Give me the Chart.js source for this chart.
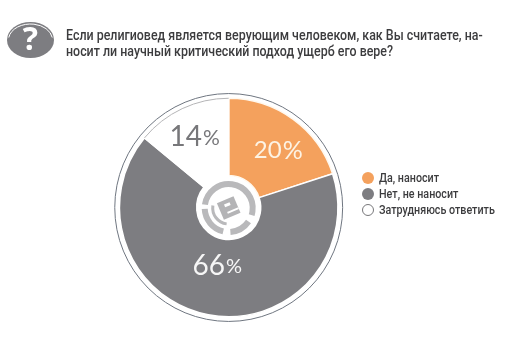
<!DOCTYPE html>
<html lang="ru">
<head>
<meta charset="utf-8">
<title>Религиовед</title>
<script src="https://cdn.jsdelivr.net/npm/chart.js@4"></script>
<style>
    html, body { margin: 0; padding: 0; background: #fff; }
    #wrap { position: relative; width: 511px; height: 360px; overflow: hidden; font-family: Roboto, sans-serif; color: #3c3c3e; }
    #title { position: absolute; left: 66px; top: 26.5px; font-size: 14px; font-weight: 500; line-height: 16.5px; white-space: nowrap; transform: scaleX(0.887); transform-origin: left top; }
    #legend { position: absolute; left: 362px; top: 170px; font-size: 13px; font-weight: 500; }
    #legend div { height: 16px; line-height: 16px; white-space: nowrap; position: relative; }
    #legend i { position: absolute; left: 0; top: 2px; width: 12px; height: 12px; border-radius: 50%; box-sizing: border-box; }
    #legend span { position: absolute; left: 17px; top: 0; transform: scaleX(0.825); transform-origin: left top; }
    canvas { position: absolute; left: 0; top: 0; }
</style>
</head>
<body>
<div id="wrap">
    <canvas id="pie" width="511" height="360"></canvas>
    <div id="title"></div>
    <div id="legend"></div>
</div>
<script>
const titleLines = ['Если религиовед является верующим человеком, как Вы считаете, на-', 'носит ли научный критический подход ущерб его вере?'];
const categories = ['Да, наносит', 'Нет, не наносит', 'Затрудняюсь ответить'];
const values = [20, 66, 14];
const colors = ['#f4a15d', '#7d7d81', '#ffffff'];
const textColors = ['#fdf3e4', '#f6f6f6', '#77777a'];

document.getElementById('title').innerHTML = titleLines.join('<br>');
document.getElementById('legend').innerHTML = categories.map((c, i) => {
    const border = i === 2 ? 'border:1.5px solid #77777a;' : '';
    return `<div><i style="background:${colors[i]};${border}"></i><span>${c}</span></div>`;
}).join('');

// percent label placement: share of outer radius, turn off the slice middle (radians)
const labelDist = [0.69, 0.54, 0.71];
const labelTurn = [0.08, -0.02, 0];
// digit and percent sign sizes differ per label in the original
const digitSize = [24, 28, 28];
const pctSize = [25, 20, 21];

const decorPlugin = {
    id: 'decor',
    afterDatasetsDraw(chart) {
        const c = chart.ctx;
        const meta = chart.getDatasetMeta(0);
        const { x, y, outerRadius: r } = meta.data[0];

        // thin outer ring
        c.save();
        c.strokeStyle = '#6f7680';
        c.lineWidth = 1;
        c.beginPath();
        c.arc(x, y, r + 4.7, 0, Math.PI * 2);
        c.stroke();

        // grey edge on the white slice
        const white = meta.data[2];
        c.strokeStyle = '#b5b5b7';
        c.beginPath();
        c.arc(x, y, r, white.startAngle, white.endAngle);
        c.stroke();

        // center emblem
        c.strokeStyle = '#b9b9bb';
        c.lineWidth = 6;
        c.beginPath(); c.arc(x, y + 0.5, 24, -3.0, 0.3); c.stroke();
        c.beginPath(); c.arc(x, y + 0.5, 24, 0.6, 1.5); c.stroke();
        c.beginPath(); c.arc(x, y + 0.5, 24, 1.8, 3.1); c.stroke();
        c.lineWidth = 3;
        c.beginPath(); c.arc(x, y + 0.5, 16, 1.7, 3.3); c.stroke();
        c.save();
        c.translate(x, y + 0.5);
        c.rotate(-0.4);
        c.fillStyle = '#b4b4b6';
        c.fillRect(-9, -9, 18, 18);
        c.fillStyle = '#ffffff';
        c.fillRect(-3, -5, 6, 3);
        c.fillRect(-3, 3, 12, 2);
        c.restore();

        // percent labels
        c.textBaseline = 'middle';
        c.textAlign = 'left';
        meta.data.forEach((a, i) => {
            const mid = (a.startAngle + a.endAngle) / 2 + labelTurn[i];
            const lx = x + Math.cos(mid) * r * labelDist[i];
            const ly = y + Math.sin(mid) * r * labelDist[i];
            const num = String(values[i]);
            c.fillStyle = textColors[i];
            c.font = `400 ${digitSize[i]}px Lato, sans-serif`;
            const numW = c.measureText(num).width;
            c.fillText(num, lx - numW / 2 - 10, ly);
            c.font = `400 ${pctSize[i]}px Lato, sans-serif`;
            c.fillText('%', lx + numW / 2 - 9, ly + 1);
        });
        c.restore();

        // question mark badge
        c.save();
        c.fillStyle = '#7d7d81';
        c.beginPath();
        c.ellipse(30.5, 40, 23.5, 18, 0, 0, Math.PI * 2);
        c.fill();
        c.strokeStyle = '#ffffff';
        c.lineWidth = 1;
        c.beginPath();
        c.ellipse(30.5, 40, 22, 16, 0, Math.PI * 1.05, Math.PI * 1.95);
        c.stroke();
        c.fillStyle = '#ffffff';
        c.font = '700 32px "Open Sans", sans-serif';
        c.textAlign = 'center';
        c.textBaseline = 'middle';
        c.fillText('?', 30.5, 41);
        c.restore();
    }
};

new Chart(document.getElementById('pie').getContext('2d'), {
    type: 'doughnut',
    data: {
        labels: categories,
        datasets: [{
            data: values,
            backgroundColor: colors,
            borderColor: ['#fff8ee', '#ffffff', '#ffffff'],
            borderWidth: 1.5,
            hoverOffset: 0,
        }]
    },
    options: {
        responsive: false,
        animation: false,
        cutout: 32,
        layout: { padding: { left: 118.7, right: 172.3, top: 97.5, bottom: 42.5 } },
        plugins: {
            legend: { display: false },
            tooltip: { enabled: false }
        }
    },
    plugins: [decorPlugin]
});
</script>
</body>
</html>
